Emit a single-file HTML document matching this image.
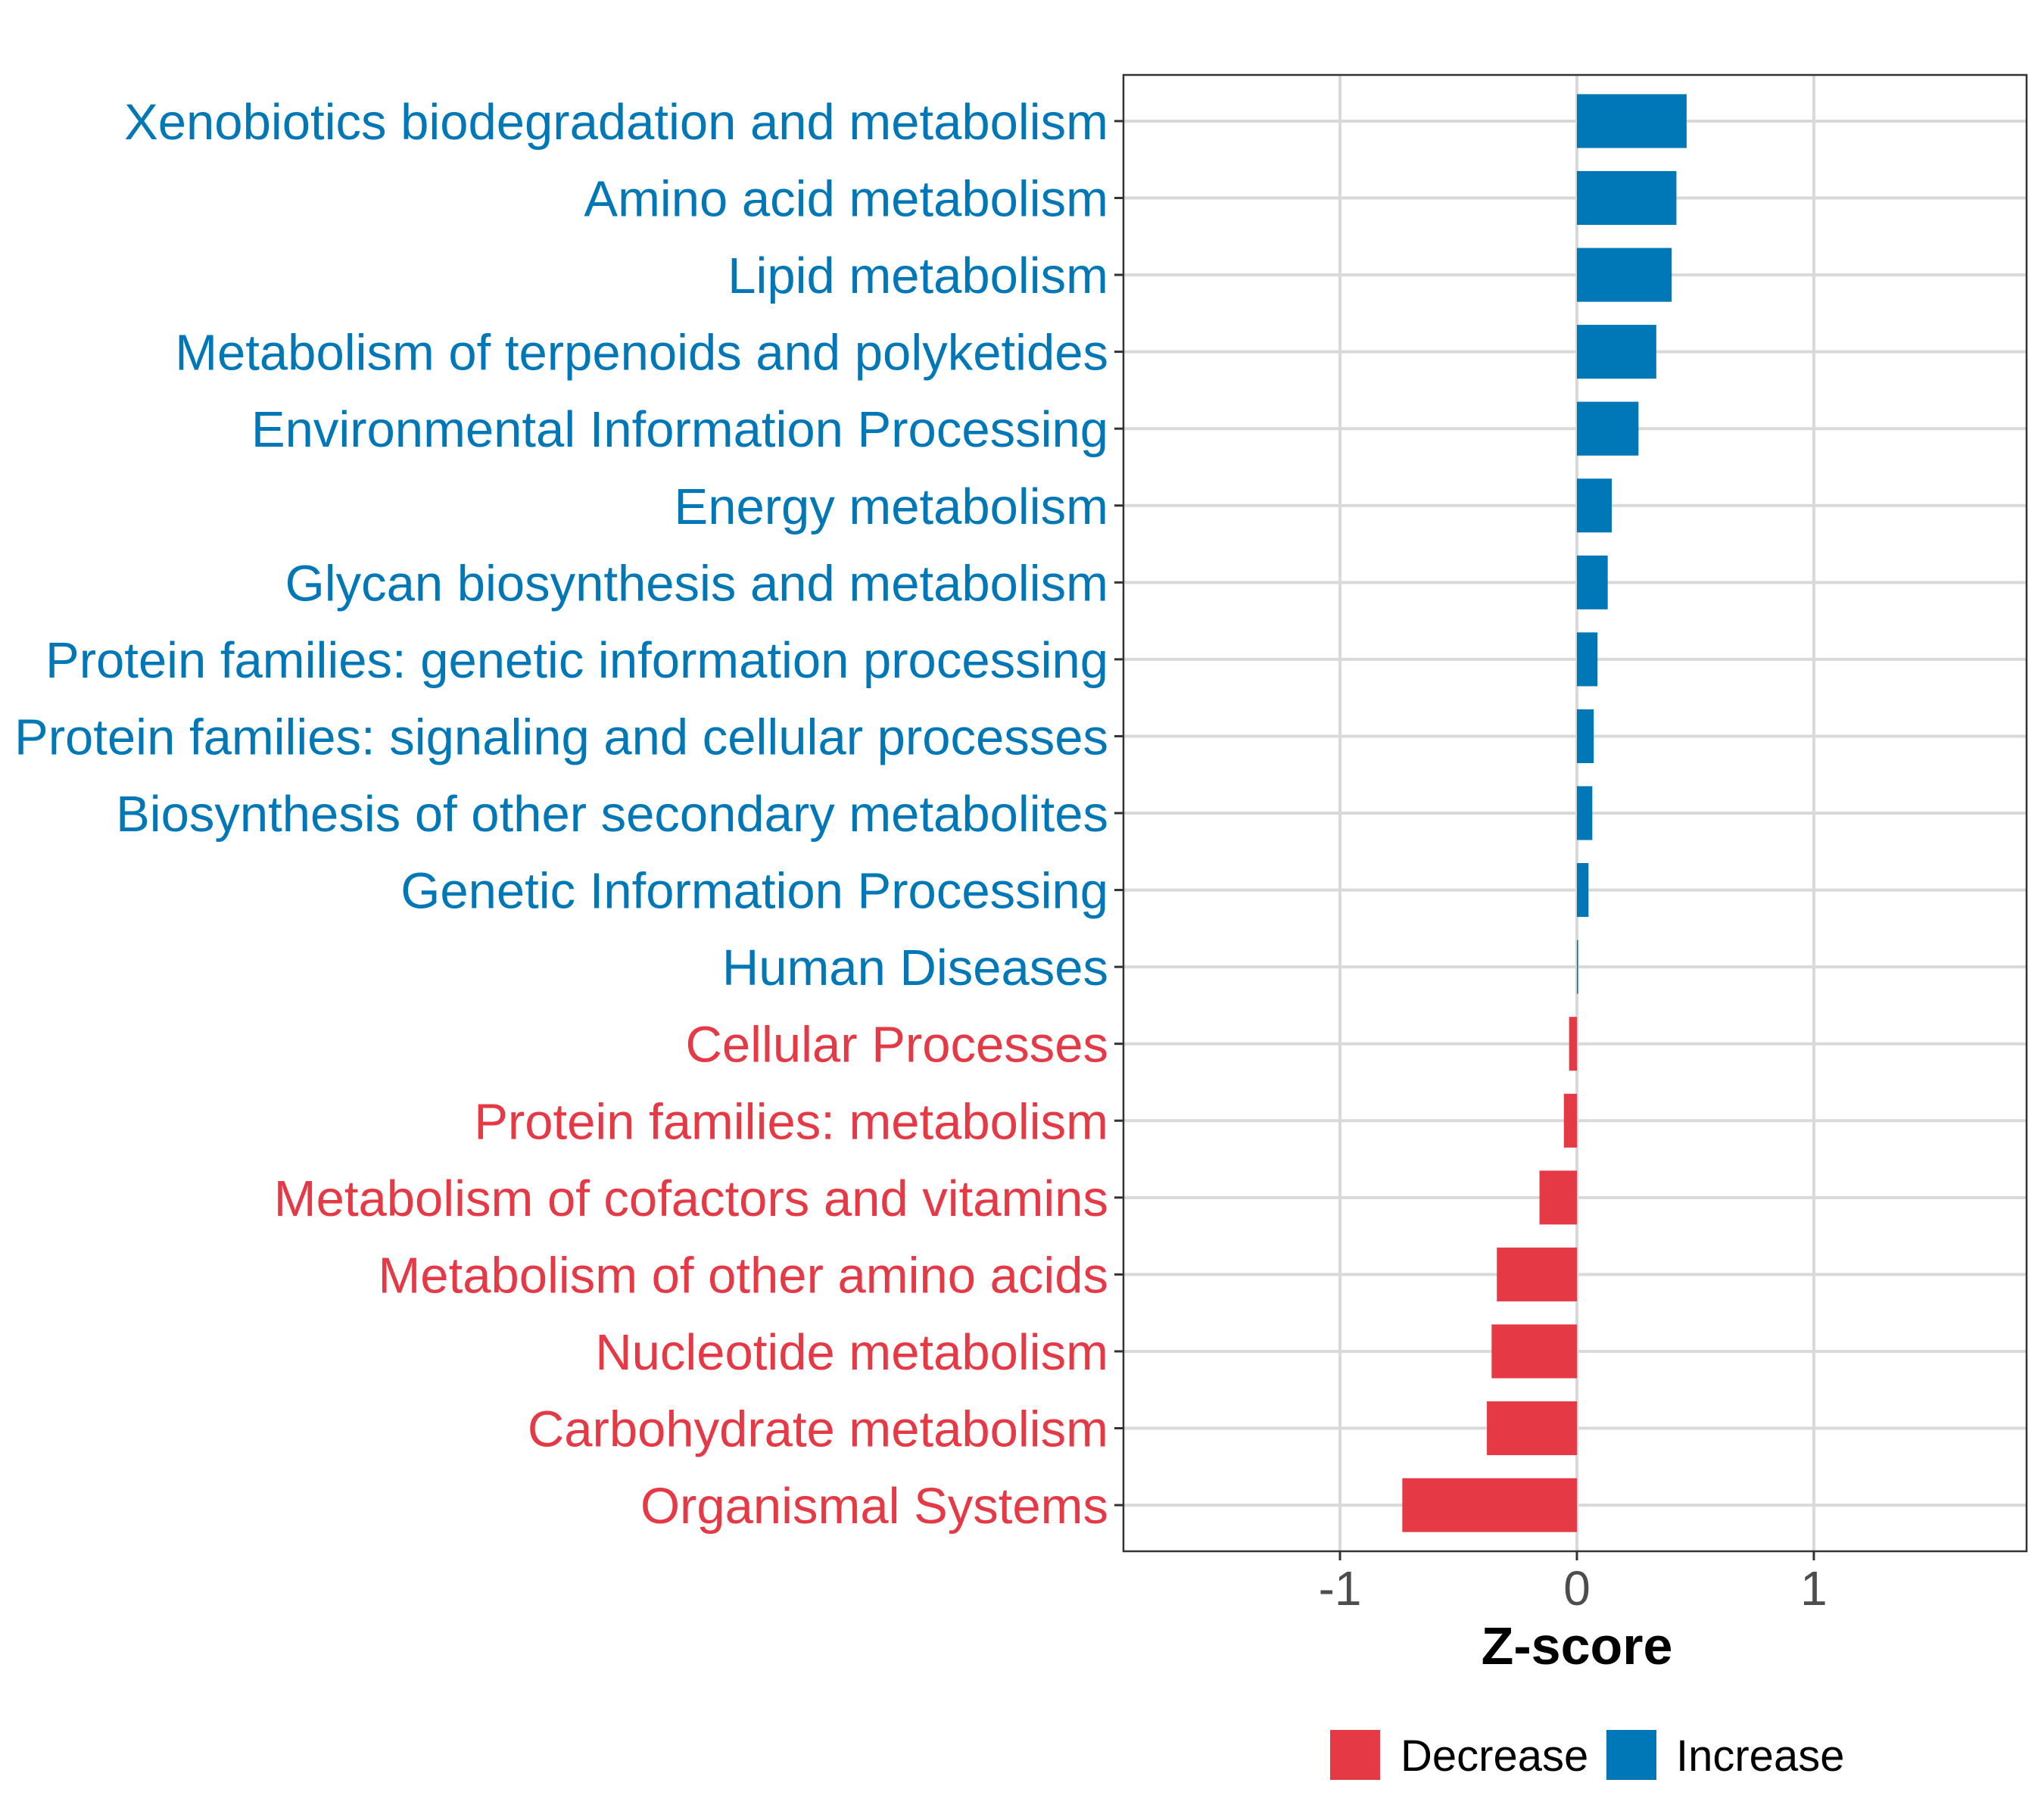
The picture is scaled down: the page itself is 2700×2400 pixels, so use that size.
<!DOCTYPE html>
<html><head><meta charset="utf-8"><style>
html,body{margin:0;padding:0;background:#fff;}
svg{display:block;font-family:"Liberation Sans",Arial,sans-serif;}
</style></head><body>
<svg id="chart" width="2700" height="2400" viewBox="0 0 2700 2400" xmlns="http://www.w3.org/2000/svg">
<g id="grid"></g>
<g id="bars"></g>
<rect x="1484" y="99" width="1193" height="1950" fill="none" stroke="#333" stroke-width="2.5"/>
<g id="yaxis"></g>
<g id="xaxis"></g>
<text x="2083" y="2198" font-size="70" font-weight="bold" text-anchor="middle" fill="#000">Z-score</text>
<g>
<rect x="1757" y="2285" width="66" height="66" fill="#E63946"/>
<text x="1850" y="2339" font-size="58" fill="#000">Decrease</text>
<rect x="2122" y="2285" width="66" height="66" fill="#0077B6"/>
<text x="2214" y="2339" font-size="58" fill="#000">Increase</text>
</g>
</svg>
<script>
const categories = ["Xenobiotics biodegradation and metabolism","Amino acid metabolism","Lipid metabolism","Metabolism of terpenoids and polyketides","Environmental Information Processing","Energy metabolism","Glycan biosynthesis and metabolism","Protein families: genetic information processing","Protein families: signaling and cellular processes","Biosynthesis of other secondary metabolites","Genetic Information Processing","Human Diseases","Cellular Processes","Protein families: metabolism","Metabolism of cofactors and vitamins","Metabolism of other amino acids","Nucleotide metabolism","Carbohydrate metabolism","Organismal Systems"];
const zscores = [0.463,0.42,0.40,0.335,0.26,0.147,0.13,0.087,0.071,0.065,0.049,0.005,-0.033,-0.055,-0.158,-0.338,-0.36,-0.38,-0.737];
const xTicks = [-1,0,1];
const xTickLabels = ["-1","0","1"];

const NS="http://www.w3.org/2000/svg";
const xmin=-1.914, xmax=1.898, px0=1484, px1=2677;
const py0=99, py1=2049;
function xs(v){return px0+(v-xmin)/(xmax-xmin)*(px1-px0);}
const band=(py1-py0)/(categories.length-1+1.2);
function ys(i){return py0+band*0.6+i*band;}
function mk(tag,attrs,parent){const e=document.createElementNS(NS,tag);for(const k in attrs)e.setAttribute(k,attrs[k]);parent.appendChild(e);return e;}
const grid=document.getElementById('grid'),bars=document.getElementById('bars'),ya=document.getElementById('yaxis'),xa=document.getElementById('xaxis');
const blue="#0077B6",red="#E63946";
xTicks.forEach((t,i)=>{
  const l=mk('line',{x1:xs(t),x2:xs(t),y1:py0,y2:py1,stroke:'#d9d9d9','stroke-width':4},grid);
  
  
  const tk=mk('line',{x1:xs(t),x2:xs(t),y1:py1,y2:py1+12,stroke:'#333','stroke-width':3},xa);
  
  
  const tx=mk('text',{x:xs(t),y:2120,'font-size':64,'text-anchor':'middle',fill:'#4d4d4d'},xa);
  tx.textContent=xTickLabels[i];
  
  
});
categories.forEach((c,i)=>{
  const y=ys(i);
  const gl=mk('line',{x1:px0,x2:px1,y1:y,y2:y,stroke:'#d9d9d9','stroke-width':4},grid);
  
  
  const v=zscores[i];
  const col=v>=0?blue:red;
  const x0=Math.min(xs(0),xs(v)),w=Math.max(Math.abs(xs(v)-xs(0)),1.5);
  const r=mk('rect',{x:x0,y:y-band*0.35,width:w,height:band*0.7,fill:col},bars);
  
  
  const tk=mk('line',{x1:px0-12,x2:px0,y1:y,y2:y,stroke:'#333','stroke-width':3},ya);
  
  
  const t=mk('text',{x:1464,y:y+24,'font-size':67,'text-anchor':'end',fill:col},ya);
  t.textContent=c;
  
  
});
</script>
</body></html>
